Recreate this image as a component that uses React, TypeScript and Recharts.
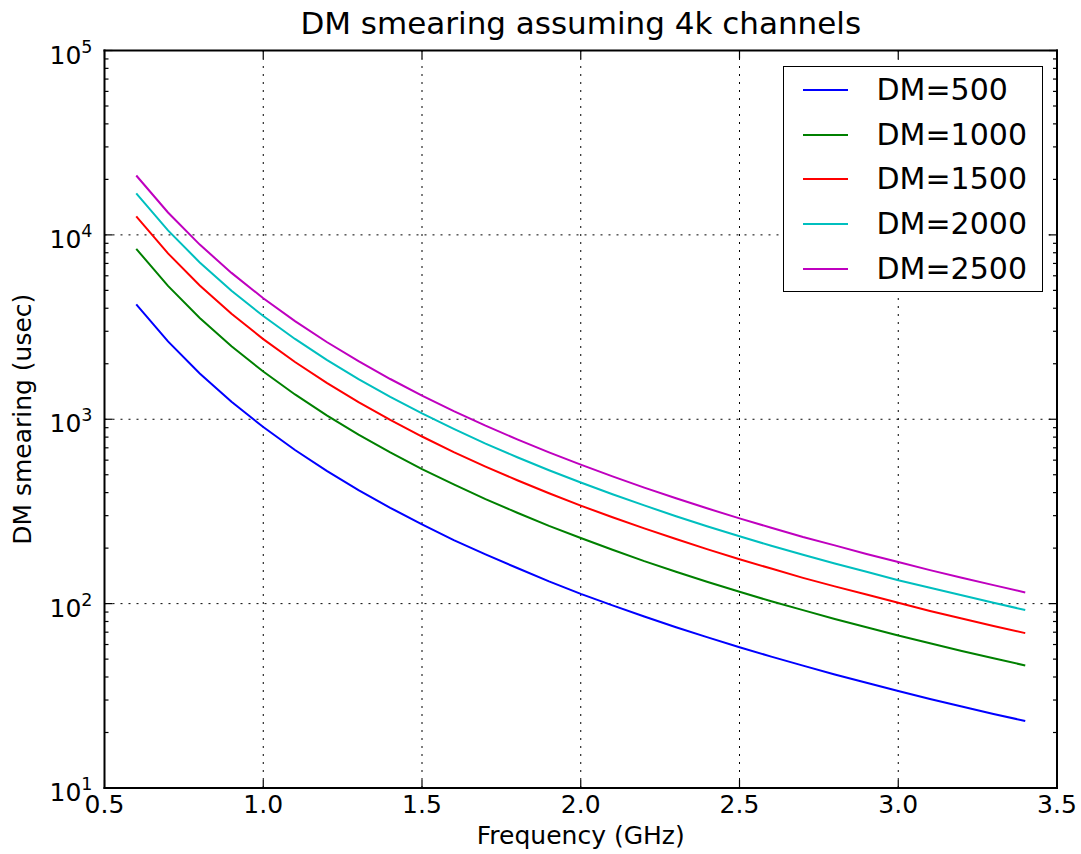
import React from 'react';
import { LineChart, Line, XAxis, YAxis, ReferenceLine, Legend } from 'recharts';

// Frequency (GHz)
const FREQ = [0.6, 0.7, 0.8, 0.9, 1.0, 1.1, 1.2, 1.3, 1.4, 1.5, 1.6, 1.7, 1.8, 1.9, 2.0, 2.1, 2.2, 2.3, 2.4, 2.5, 2.6, 2.7, 2.8, 2.9, 3.0, 3.1, 3.2, 3.3, 3.4];

// DM smearing (usec)
const DM500 = [4199, 2644, 1771, 1244, 907, 681, 525, 413, 331, 269, 221, 185, 156, 132, 113, 97.9, 85.2, 74.5, 65.6, 58.0, 51.6, 46.1, 41.3, 37.2, 33.6, 30.4, 27.7, 25.2, 23.1];
const DM1000 = [8398, 5289, 3543, 2488, 1814, 1363, 1050, 826, 661, 537, 443, 369, 311, 264, 227, 196, 170, 149, 131, 116, 103, 92.2, 82.6, 74.4, 67.2, 60.9, 55.4, 50.5, 46.2];
const DM1500 = [12597, 7933, 5314, 3733, 2721, 2044, 1575, 1239, 992, 806, 664, 554, 467, 397, 340, 294, 256, 224, 197, 174, 155, 138, 124, 112, 101, 91.3, 83.0, 75.7, 69.2];
const DM2000 = [16796, 10577, 7086, 4977, 3628, 2726, 2100, 1651, 1322, 1075, 886, 738, 622, 529, 454, 392, 341, 298, 262, 232, 206, 184, 165, 149, 134, 122, 111, 101, 92.3];
const DM2500 = [20995, 13222, 8857, 6221, 4535, 3407, 2624, 2064, 1653, 1344, 1107, 923, 778, 661, 567, 490, 426, 373, 328, 290, 258, 230, 207, 186, 168, 152, 138, 126, 115];

const SERIES_KEYS = ['dm500', 'dm1000', 'dm1500', 'dm2000', 'dm2500'];
const SERIES_NAMES = ['DM=500', 'DM=1000', 'DM=1500', 'DM=2000', 'DM=2500'];
const SERIES_COLORS = ['#0000ff', '#008000', '#ff0000', '#00bfbf', '#bf00bf'];
const SERIES_VALUES = [DM500, DM1000, DM1500, DM2000, DM2500];

const X_TICKS = [0.5, 1.0, 1.5, 2.0, 2.5, 3.0, 3.5];
const X_TICK_LABELS = ['0.5', '1.0', '1.5', '2.0', '2.5', '3.0', '3.5'];
const X_GRID = [1.0, 1.5, 2.0, 2.5, 3.0];
const Y_MAJOR = [10, 100, 1000, 10000, 100000];
const Y_EXP = ['1', '2', '3', '4', '5'];
const Y_MINOR = [20, 30, 40, 50, 60, 70, 80, 90, 200, 300, 400, 500, 600, 700, 800, 900, 2000, 3000, 4000, 5000, 6000, 7000, 8000, 9000, 20000, 30000, 40000, 50000, 60000, 70000, 80000, 90000];
const Y_GRID = [100, 1000, 10000];

const TITLE = 'DM smearing assuming 4k channels';
const X_LABEL = 'Frequency (GHz)';
const Y_LABEL = 'DM smearing (usec)';

const data = FREQ.map((f, i) => {
  const row: any = { f };
  SERIES_KEYS.forEach((k, j) => {
    row[k] = SERIES_VALUES[j][i];
  });
  return row;
});

const Y_TICKS = [...Y_MAJOR, ...Y_MINOR].sort((a, b) => a - b);

const FONT = '"DejaVu Sans", sans-serif';
const MAJOR_LEN = 8;
const MINOR_LEN = 4;

const majorIndex = (v: number) => Y_MAJOR.findIndex((m) => Math.abs(m - v) / m < 1e-6);

const LeftTick = (props: any) => {
  const { x, y, payload } = props;
  const idx = majorIndex(payload.value);
  const len = idx >= 0 ? MAJOR_LEN : MINOR_LEN;
  return (
    <g>
      <line x1={x} x2={x + len} y1={y} y2={y} stroke="#000" strokeWidth={1.2} />
      {idx >= 0 && (
        <text x={x - 12} y={y + 13} textAnchor="end" fontSize={25} fontFamily={FONT} fill="#000">
          <tspan>10</tspan>
          <tspan dy={-11} fontSize={17.5}>{Y_EXP[idx]}</tspan>
        </text>
      )}
    </g>
  );
};

const RightTick = (props: any) => {
  const { x, y, payload } = props;
  const idx = majorIndex(payload.value);
  const len = idx >= 0 ? MAJOR_LEN : MINOR_LEN;
  return <line x1={x} x2={x - len} y1={y} y2={y} stroke="#000" strokeWidth={1.2} />;
};

const BottomTick = (props: any) => {
  const { x, y, payload } = props;
  const idx = X_TICKS.findIndex((t) => Math.abs(t - payload.value) < 1e-9);
  return (
    <g>
      <line x1={x} x2={x} y1={y} y2={y - MAJOR_LEN} stroke="#000" strokeWidth={1.2} />
      <text x={x} y={y + 25} textAnchor="middle" fontSize={25} fontFamily={FONT} fill="#000">
        {X_TICK_LABELS[idx]}
      </text>
    </g>
  );
};

const TopTick = (props: any) => {
  const { x, y } = props;
  return <line x1={x} x2={x} y1={y} y2={y + MAJOR_LEN} stroke="#000" strokeWidth={1.2} />;
};

const TitleLabel = (props: any) => {
  const vb = props.viewBox || {};
  return (
    <text x={vb.x + vb.width / 2} y={vb.y + vb.height - 17} textAnchor="middle" fontSize={31} fontFamily={FONT} fill="#000">
      {TITLE}
    </text>
  );
};

const XLabel = (props: any) => {
  const vb = props.viewBox || {};
  return (
    <text x={vb.x + vb.width / 2} y={vb.y + 56} textAnchor="middle" fontSize={25} fontFamily={FONT} fill="#000">
      {X_LABEL}
    </text>
  );
};

const YLabel = (props: any) => {
  const vb = props.viewBox || {};
  const cx = vb.x + 6;
  const cy = vb.y + vb.height / 2;
  return (
    <text x={cx} y={cy} transform={`rotate(-90, ${cx}, ${cy})`} textAnchor="middle" fontSize={25} fontFamily={FONT} fill="#000">
      {Y_LABEL}
    </text>
  );
};

const LegendContent = (props: any) => {
  const payload = [...(props.payload || [])].sort(
    (a: any, b: any) => SERIES_NAMES.indexOf(a.value) - SERIES_NAMES.indexOf(b.value)
  );
  return (
    <div
      style={{
        width: 260,
        height: 226,
        boxSizing: 'border-box',
        border: '1.5px solid #000',
        background: '#fff',
        paddingTop: 1,
        fontFamily: FONT,
        fontSize: 30,
        color: '#000',
      }}
    >
      {payload.map((p: any, i: number) => (
        <div key={i} style={{ height: 44.6, display: 'flex', alignItems: 'center' }}>
          <span style={{ display: 'inline-block', width: 45, height: 2, background: p.color, marginLeft: 18.5 }} />
          <span style={{ marginLeft: 29, lineHeight: 1 }}>{p.value}</span>
        </div>
      ))}
    </div>
  );
};

const axisLineStyle = { stroke: '#000', strokeWidth: 2, strokeLinecap: 'square' as const };

export default function App() {
  return (
    <div style={{ position: 'absolute', left: 0, top: 0, width: 1081, height: 854, background: '#fff', fontFamily: FONT }}>
      <LineChart
        width={1081}
        height={854}
        data={data}
        margin={{ top: 40.5, right: 14, bottom: 26, left: 24.5 }}
      >
        <XAxis
          xAxisId="b"
          dataKey="f"
          type="number"
          domain={[0.5, 3.5]}
          ticks={X_TICKS}
          interval={0}
          height={40}
          tickSize={0}
          tickMargin={0}
          tickLine={false}
          axisLine={axisLineStyle}
          tick={<BottomTick />}
          allowDataOverflow
          label={{ content: <XLabel /> }}
        />
        <XAxis
          xAxisId="t"
          orientation="top"
          dataKey="f"
          type="number"
          domain={[0.5, 3.5]}
          ticks={X_TICKS}
          interval={0}
          height={10}
          tickSize={0}
          tickMargin={0}
          tickLine={false}
          axisLine={axisLineStyle}
          tick={<TopTick />}
          allowDataOverflow
          label={{ content: <TitleLabel /> }}
        />
        <YAxis
          yAxisId="l"
          type="number"
          scale="log"
          domain={[10, 100000]}
          ticks={Y_TICKS}
          interval={0}
          width={80}
          tickSize={0}
          tickMargin={0}
          tickLine={false}
          axisLine={axisLineStyle}
          tick={<LeftTick />}
          allowDataOverflow
          label={{ content: <YLabel /> }}
        />
        <YAxis
          yAxisId="r"
          orientation="right"
          type="number"
          scale="log"
          domain={[10, 100000]}
          ticks={Y_TICKS}
          interval={0}
          width={10}
          tickSize={0}
          tickMargin={0}
          tickLine={false}
          axisLine={axisLineStyle}
          tick={<RightTick />}
          allowDataOverflow
        />
        {X_GRID.map((v) => (
          <ReferenceLine key={'x' + v} x={v} xAxisId="b" yAxisId="l" stroke="#000" strokeWidth={1} strokeDasharray="2 6" />
        ))}
        {Y_GRID.map((v) => (
          <ReferenceLine key={'y' + v} y={v} xAxisId="b" yAxisId="l" stroke="#000" strokeWidth={1} strokeDasharray="2 6" />
        ))}
        {SERIES_KEYS.map((k, j) => (
          <Line
            key={k}
            xAxisId="b"
            yAxisId="l"
            type="linear"
            dataKey={k}
            name={SERIES_NAMES[j]}
            stroke={SERIES_COLORS[j]}
            strokeWidth={2}
            dot={false}
            activeDot={false}
            isAnimationActive={false}
          />
        ))}
        <Legend
          layout="vertical"
          align="center"
          verticalAlign="middle"
          wrapperStyle={{ left: 783, top: 66, width: 260, height: 226 }}
          content={<LegendContent />}
        />
      </LineChart>
    </div>
  );
}
